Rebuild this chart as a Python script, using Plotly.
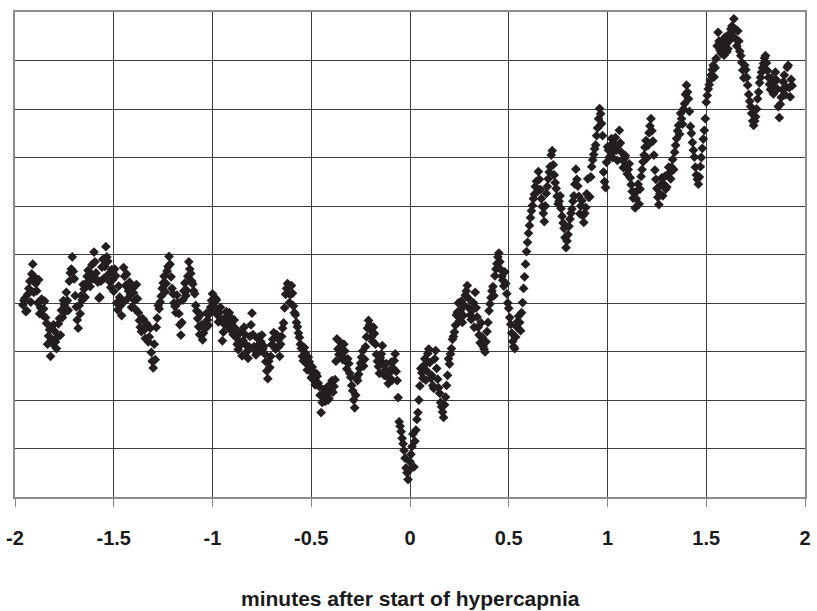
import numpy as np
import plotly.graph_objects as go

# Recording time base (minutes relative to start of hypercapnia)
T_START = -1.96
T_STEP = 0.005

# Recorded signal, one value per sample (arbitrary units, 0-100)
signal = [
    39.6, 40.5, 41.0, 38.2, 38.4, 41.8, 43.0, 44.5, 40.2, 46.0, 48.0, 42.2, 45.3, 44.0, 42.5, 40.0, 44.8, 37.8, 39.0, 40.8,
    37.5, 38.8, 40.4, 37.0, 35.8, 31.5, 33.2, 34.5, 29.0, 32.5, 31.6, 35.5, 34.2, 32.0, 30.6, 33.0, 35.7, 36.8, 33.4, 38.5,
    37.0, 40.5, 39.6, 38.2, 42.2, 40.5, 38.5, 44.5, 46.2, 47.0, 49.5, 46.5, 45.0, 41.5, 39.2, 36.5, 34.8, 39.5, 37.8, 41.5,
    40.6, 43.8, 42.9, 41.2, 44.0, 45.5, 46.7, 44.5, 43.4, 46.0, 47.9, 45.0, 50.5, 48.5, 46.2, 44.8, 44.3, 41.0, 41.2, 44.5,
    47.4, 49.0, 45.1, 47.5, 51.6, 49.5, 48.6, 46.0, 44.4, 43.2, 46.9, 44.8, 42.4, 47.0, 45.6, 40.0, 38.6, 43.5, 41.2, 39.5,
    37.4, 40.0, 47.3, 45.5, 43.6, 46.0, 40.9, 42.5, 44.3, 41.8, 39.1, 43.0, 42.1, 40.5, 38.7, 43.8, 40.9, 38.0, 36.4, 35.0,
    34.1, 36.8, 36.6, 34.5, 32.7, 35.8, 35.3, 32.0, 33.0, 34.8, 29.8, 28.0, 26.6, 31.5, 28.3, 35.0, 36.9, 39.5, 38.8, 40.2,
    41.4, 43.0, 44.1, 45.5, 42.3, 44.0, 46.6, 47.5, 49.6, 48.0, 45.4, 43.0, 41.9, 40.0, 39.3, 38.0, 41.6, 40.0, 37.8, 35.5,
    33.4, 36.0, 40.6, 42.5, 44.1, 41.5, 42.6, 45.5, 48.5, 47.0, 46.1, 44.5, 43.9, 42.5, 41.9, 39.5, 38.4, 36.8, 35.1, 33.5,
    37.6, 35.5, 32.4, 33.8, 34.6, 36.0, 37.9, 36.5, 35.4, 37.8, 39.1, 40.5, 41.9, 39.5, 38.5, 41.0, 40.6, 37.5, 36.1, 38.0,
    39.1, 36.5, 32.2, 34.0, 35.6, 37.0, 38.2, 36.5, 35.0, 38.0, 37.1, 35.8, 34.1, 33.5, 36.5, 34.8, 32.9, 31.5, 30.4, 32.0,
    33.9, 31.5, 29.1, 32.2, 35.0, 33.5, 31.3, 30.0, 28.6, 31.0, 33.1, 35.5, 37.9, 33.5, 31.0, 30.2, 29.3, 31.0, 32.6, 33.0,
    30.1, 32.0, 33.4, 30.5, 31.1, 29.5, 27.9, 26.0, 24.4, 28.0, 26.7, 29.0, 31.4, 32.5, 33.9, 31.0, 30.5, 33.5, 32.7, 31.0,
    29.0, 31.5, 33.1, 34.8, 35.9, 39.0, 41.8, 43.0, 44.0, 42.0, 40.1, 41.8, 43.6, 42.0, 39.4, 38.0, 37.6, 36.0, 35.1, 33.8,
    32.9, 31.5, 30.6, 29.0, 28.1, 30.8, 29.7, 27.5, 26.2, 28.8, 27.9, 26.0, 24.6, 26.8, 25.7, 24.0, 23.1, 25.5, 24.9, 23.5,
    22.8, 21.0, 17.4, 19.5, 21.1, 22.2, 19.7, 21.0, 22.6, 20.0, 20.3, 22.0, 23.4, 24.0, 21.6, 22.8, 24.2, 28.0, 32.6, 30.5,
    29.4, 32.0, 31.1, 29.0, 28.3, 31.5, 30.1, 28.0, 26.4, 28.5, 27.5, 25.5, 24.7, 23.0, 21.9, 20.0, 18.4, 21.0, 24.6, 24.0,
    25.3, 26.5, 27.6, 28.8, 30.1, 27.0, 28.4, 31.0, 33.0, 34.8, 36.4, 35.5, 34.4, 33.0, 32.1, 35.0, 33.7, 31.5, 29.4, 28.0,
    26.9, 25.5, 28.7, 29.5, 31.2, 27.5, 25.1, 26.2, 27.5, 24.8, 23.4, 25.5, 26.2, 27.8, 24.1, 26.5, 28.1, 29.5, 25.9, 24.0,
    20.5, 15.5, 14.6, 13.5, 12.1, 11.0, 9.6, 8.0, 6.0, 5.0, 3.6, 5.5, 7.3, 8.8, 10.4, 13.0, 6.2, 11.5, 13.8, 16.0,
    17.4, 20.0, 22.9, 26.5, 25.6, 24.5, 27.1, 28.5, 24.1, 26.0, 29.6, 30.5, 27.7, 24.5, 25.1, 23.0, 22.4, 28.5, 30.2, 26.5,
    24.3, 22.5, 21.4, 19.5, 18.6, 17.5, 16.4, 19.0, 20.6, 23.0, 25.1, 28.5, 27.4, 29.5, 30.6, 32.5, 33.1, 34.0, 35.4, 37.5,
    38.1, 40.0, 36.3, 38.5, 40.4, 36.0, 37.4, 39.5, 41.6, 42.5, 43.6, 41.0, 38.9, 37.5, 36.6, 38.5, 40.1, 35.0, 42.2, 39.0,
    37.1, 35.0, 33.4, 31.8, 35.9, 33.0, 31.1, 30.5, 29.9, 32.0, 34.1, 36.0, 38.4, 39.8, 41.1, 42.5, 43.4, 41.5, 45.6, 47.0,
    48.1, 49.5, 50.3, 48.5, 46.9, 45.5, 44.7, 43.5, 46.4, 44.0, 41.9, 40.0, 38.9, 37.0, 35.6, 33.8, 32.1, 31.0, 30.6, 33.0,
    35.1, 36.2, 37.3, 36.0, 34.3, 38.0, 40.1, 43.0, 45.4, 48.0, 50.6, 52.5, 54.4, 56.0, 57.6, 59.0, 60.1, 61.5, 62.4, 64.0,
    65.1, 63.0, 67.1, 65.5, 63.4, 61.5, 59.9, 58.5, 56.8, 60.0, 62.6, 64.0, 65.6, 67.0, 68.1, 70.5, 71.4, 68.5, 66.4, 64.8,
    63.6, 62.0, 60.4, 61.0, 62.1, 59.5, 57.9, 56.5, 55.4, 53.5, 51.4, 52.8, 54.1, 55.8, 57.3, 58.5, 59.4, 61.0, 62.1, 64.5,
    67.6, 65.5, 64.1, 62.0, 58.4, 60.0, 61.1, 58.0, 56.6, 58.5, 59.7, 62.5, 65.6, 61.8, 61.9, 66.0, 68.1, 69.5, 70.6, 71.8,
    72.6, 74.5, 76.1, 78.0, 80.1, 79.0, 77.0, 74.5, 67.0, 65.0, 63.8, 69.0, 72.2, 71.5, 70.1, 72.5, 73.9, 70.0, 71.2, 72.8,
    74.1, 71.5, 69.4, 72.5, 75.6, 73.0, 71.1, 69.5, 67.9, 69.8, 70.4, 68.5, 66.6, 67.5, 68.7, 65.8, 64.4, 63.0, 61.6, 62.8,
    59.6, 61.5, 63.1, 64.5, 60.4, 63.5, 66.1, 67.5, 69.1, 70.5, 72.1, 73.5, 69.9, 72.5, 75.1, 76.5, 78.0, 75.5, 73.4, 70.5,
    67.4, 65.5, 63.6, 61.8, 60.3, 62.5, 64.4, 65.8, 62.1, 64.5, 66.1, 63.5, 63.9, 66.5, 68.0, 66.8, 65.6, 68.0, 69.6, 67.5,
    71.1, 72.5, 73.9, 75.5, 76.6, 74.8, 79.1, 78.0, 76.9, 80.0, 81.1, 83.0, 84.9, 83.5, 82.1, 79.5, 76.4, 75.0, 73.1, 71.5,
    70.1, 68.0, 66.4, 65.5, 64.5, 66.0, 68.1, 70.0, 71.9, 73.8, 75.6, 78.0, 81.4, 82.8, 84.1, 85.0, 86.0, 87.0, 88.1, 89.0,
    86.6, 88.5, 90.4, 93.0, 95.8, 94.0, 92.1, 91.5, 94.0, 92.5, 91.1, 94.8, 93.4, 91.8, 92.4, 94.0, 95.6, 96.5, 97.1, 95.0,
    98.6, 96.5, 94.4, 93.0, 96.1, 94.0, 91.9, 91.0, 89.6, 88.0, 86.4, 89.0, 88.1, 86.5, 84.9, 83.0, 81.6, 80.5, 79.1, 77.5,
    76.6, 77.5, 78.4, 80.0, 82.1, 83.5, 85.4, 86.5, 87.6, 88.5, 89.4, 90.5, 91.0, 89.5, 87.9, 86.5, 85.1, 84.0, 86.4, 85.0,
    83.1, 85.5, 87.6, 86.0, 84.1, 80.5, 78.2, 81.0, 82.4, 84.0, 85.6, 87.0, 82.9, 84.5, 88.6, 89.0, 84.4, 82.5, 86.1, 84.8,
]

x_ticks = [-2, -1.5, -1, -0.5, 0, 0.5, 1, 1.5, 2]
x_tick_labels = ["-2", "-1.5", "-1", "-0.5", "0", "0.5", "1", "1.5", "2"]
x_title = "minutes after start of hypercapnia"

time = T_START + T_STEP * np.arange(len(signal))

FONT_FAMILY = "Liberation Sans, Arial, sans-serif"
TEXT_COLOR = "#1a1a1a"

fig = go.Figure(
    go.Scatter(
        x=time,
        y=signal,
        mode="markers",
        marker=dict(symbol="diamond", size=7.5, color="#231f20", line=dict(width=0)),
        hoverinfo="skip",
    )
)

fig.update_layout(
    width=817,
    height=611,
    margin=dict(l=14, r=6, t=12, b=114),
    paper_bgcolor="white",
    plot_bgcolor="white",
    showlegend=False,
    font=dict(family=FONT_FAMILY, size=20, color=TEXT_COLOR),
)

fig.update_xaxes(
    range=[-2, 2],
    tickvals=x_ticks,
    ticktext=["<b>%s</b>" % t for t in x_tick_labels],
    ticks="outside",
    ticklen=8,
    tickcolor="#888888",
    ticklabelstandoff=14,
    showgrid=True,
    gridcolor="#3c3c3c",
    gridwidth=1,
    showline=True,
    linecolor="#8c8c8c",
    linewidth=2,
    mirror=True,
    zeroline=False,
    tickfont=dict(family=FONT_FAMILY, size=20, color=TEXT_COLOR),
)

fig.update_yaxes(
    range=[0, 100],
    dtick=10,
    showticklabels=False,
    ticks="",
    showgrid=True,
    gridcolor="#3c3c3c",
    gridwidth=1,
    showline=True,
    linecolor="#8c8c8c",
    linewidth=2,
    mirror=True,
    zeroline=False,
)

fig.add_annotation(
    text="<b>%s</b>" % x_title,
    xref="paper",
    yref="paper",
    x=0.5,
    y=-0.2093,
    xanchor="center",
    yanchor="middle",
    showarrow=False,
    font=dict(family=FONT_FAMILY, size=21, color=TEXT_COLOR),
)

fig.write_html("out.html")
